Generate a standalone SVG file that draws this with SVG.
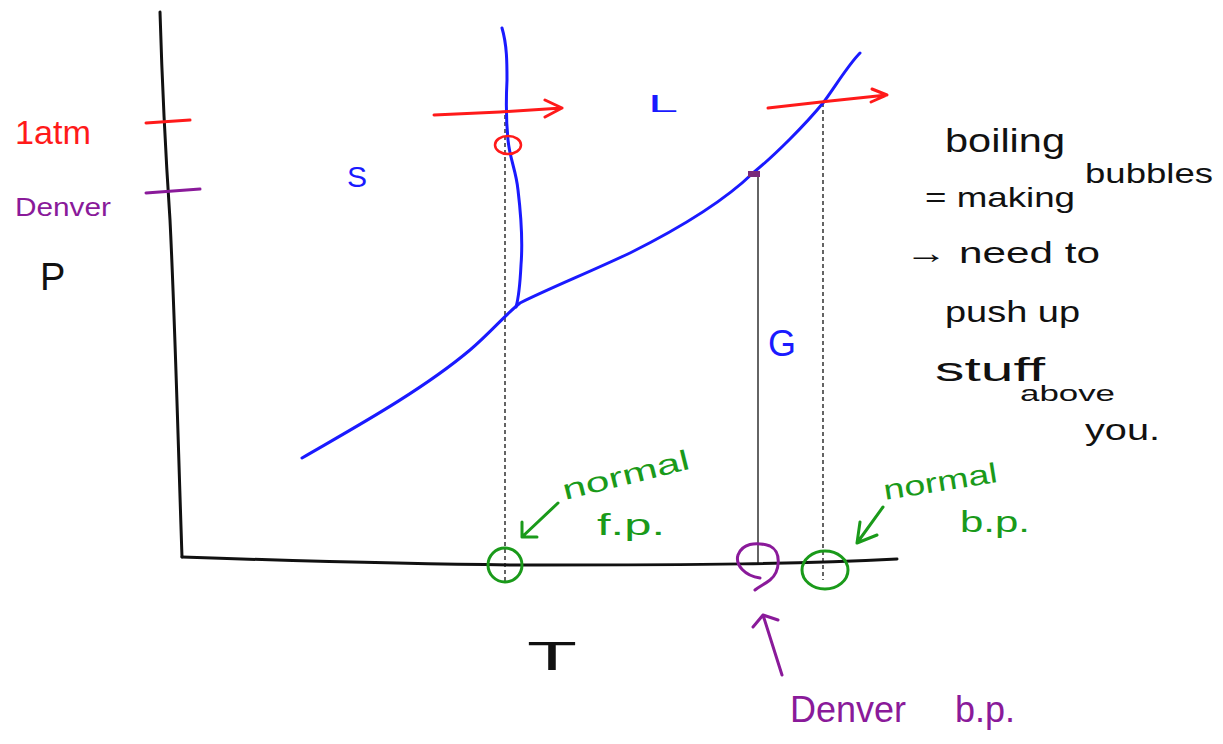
<svg xmlns="http://www.w3.org/2000/svg" width="1223" height="744" viewBox="0 0 1223 744">
<style>
.pen{fill:none;stroke-width:3;stroke-linecap:round;stroke-linejoin:round}
.blk{stroke:#111}
.blu{stroke:#1a1aff}
.red{stroke:#ff1a1a}
.pur{stroke:#8a1a9a}
.grn{stroke:#1a9a1a}
.guide{fill:none;stroke:#111;stroke-width:1.3}
.dash{stroke-dasharray:4 3}
text{font-family:"Liberation Sans","DejaVu Sans",sans-serif}
.tb{fill:#111}.tr{fill:#ff1a1a}.tp{fill:#8a1a9a}.tg{fill:#1a9a1a}.tu{fill:#1a1aff}
</style>
<rect width="1223" height="744" fill="#fff"/>
<g id="axes">
<path class="pen blk" d="M160,12 C162,80 166,160 170,220 C175,320 178,440 182,557"/>
<path class="pen blk" d="M182,557 C300,561 450,565 540,565 C700,565 800,564 897,559"/>
</g>
<g id="ticks">
<path class="pen red" d="M146,123 L190,120"/>
<path class="pen pur" d="M146,193 L200,189"/>
</g>
<g id="connectors">
<path class="guide dash" d="M505,115 L505,582"/>
<path class="guide dash" d="M823,103 L823,580"/>
<path class="guide" d="M758,173 L758,565"/>
</g>
<g id="phase-lines">
<path class="pen blu" d="M502,28 C507,45 507,63 507,80 C506,100 506,120 508,140 C510,160 516,170 518,190 C521,215 523,240 521,265 C520,285 518,300 516,307"/>
<path class="pen blu" d="M302,458 C350,430 420,392 470,350 C490,333 505,315 520,303 C550,288 590,272 630,253 C670,233 720,205 753,173 C775,155 805,125 823,103 C835,87 848,65 860,53"/>
<path d="M748,171 L760,171 L760,177 L748,177 Z" fill="#7a2a7a"/>
</g>
<g id="pressure-arrows">
<path class="pen red" d="M434,115 L500,112 L562,108 M545,100 L562,108 L545,117"/>
<path class="pen red" d="M768,108 L830,101 L887,95 M872,89 L887,95 L871,102"/>
<ellipse class="pen red" cx="508" cy="145" rx="13" ry="9" style="stroke-width:2.5"/>
</g>
<g id="markers">
<ellipse class="pen grn" cx="505" cy="565" rx="17" ry="17"/>
<ellipse class="pen grn" cx="825" cy="570" rx="23" ry="19"/>
<path class="pen pur" d="M760,578 C745,576 735,565 738,555 C742,544 755,541 770,546 C782,552 780,572 770,580 C765,584 760,586 755,590"/>
<path class="pen grn" d="M558,503 L522,537 M522,522 L522,537 L537,537"/>
<path class="pen grn" d="M883,507 L857,543 M860,522 L857,543 L877,535"/>
<path class="pen pur" d="M782,675 L763,615 M753,627 L763,615 L778,620"/>
</g>
<g id="labels">
<text class="tr" x="15" y="144" font-size="34" textLength="76" lengthAdjust="spacingAndGlyphs">1atm</text>
<text class="tp" x="15" y="216" font-size="26" textLength="96" lengthAdjust="spacingAndGlyphs">Denver</text>
<text class="tb" x="40" y="290" font-size="38">P</text>
<text class="tu" x="347" y="187" font-size="30">S</text>
<text class="tu" x="648" y="112" font-size="24" textLength="30" lengthAdjust="spacingAndGlyphs">L</text>
<text class="tu" x="768" y="356" font-size="36">G</text>
<text class="tb" x="527" y="670" font-size="40" textLength="50" lengthAdjust="spacingAndGlyphs">T</text>
<text class="tg" x="565" y="500" font-size="28" textLength="130" lengthAdjust="spacingAndGlyphs" transform="rotate(-14 565 500)">normal</text>
<text class="tg" x="597" y="535" font-size="30" textLength="68" lengthAdjust="spacingAndGlyphs">f.p.</text>
<text class="tg" x="885" y="500" font-size="28" textLength="115" lengthAdjust="spacingAndGlyphs" transform="rotate(-9 885 500)">normal</text>
<text class="tg" x="960" y="532" font-size="30" textLength="70" lengthAdjust="spacingAndGlyphs">b.p.</text>
<text class="tp" y="722" font-size="36"><tspan x="790">Denver</tspan><tspan x="955">b.p.</tspan></text>
</g>
<g id="note">
<text class="tb" x="945" y="152" font-size="34" textLength="120" lengthAdjust="spacingAndGlyphs">boiling</text>
<text class="tb" x="1085" y="183" font-size="28" textLength="128" lengthAdjust="spacingAndGlyphs">bubbles</text>
<text class="tb" x="925" y="207" font-size="28" textLength="150" lengthAdjust="spacingAndGlyphs">= making</text>
<text class="tb" x="905" y="263" font-size="30" textLength="195" lengthAdjust="spacingAndGlyphs">→ need to</text>
<text class="tb" x="945" y="322" font-size="30" textLength="135" lengthAdjust="spacingAndGlyphs">push up</text>
<text class="tb" x="935" y="381" font-size="34" textLength="110" lengthAdjust="spacingAndGlyphs">stuff</text>
<text class="tb" x="1020" y="401" font-size="22" textLength="95" lengthAdjust="spacingAndGlyphs">above</text>
<text class="tb" x="1085" y="440" font-size="30" textLength="75" lengthAdjust="spacingAndGlyphs">you.</text>
</g>
</svg>
